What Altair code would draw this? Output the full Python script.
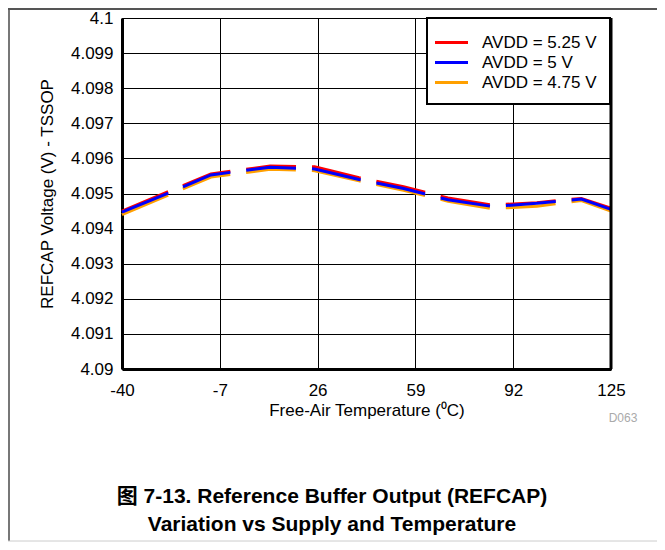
import altair as alt
import pandas as pd

temps = [-40, -25, -10, 10, 25, 40, 55, 70, 85, 100, 115, 125]
avdd_525 = [4.09450, 4.09503, 4.09556, 4.09578, 4.09576, 4.09545, 4.09519, 4.09487, 4.09467, 4.09474, 4.09486, 4.09458]
avdd_500 = [4.09447, 4.09499, 4.09553, 4.09575, 4.09570, 4.09540, 4.09514, 4.09482, 4.09463, 4.09472, 4.09484, 4.09455]
avdd_475 = [4.09440, 4.09493, 4.09547, 4.09569, 4.09565, 4.09536, 4.09509, 4.09478, 4.09457, 4.09464, 4.09480, 4.09450]

series_names = ["AVDD = 5.25 V", "AVDD = 5 V", "AVDD = 4.75 V"]
series_colors = ["#FF0000", "#0000FF", "#FFA000"]
x_ticks = [-40, -7, 26, 59, 92, 125]
y_ticks = [4.09, 4.091, 4.092, 4.093, 4.094, 4.095, 4.096, 4.097, 4.098, 4.099, 4.1]

# draw order: red, orange, blue (blue on top)
rows = []
for name, vals, order in [(series_names[0], avdd_525, 0), (series_names[2], avdd_475, 1), (series_names[1], avdd_500, 2)]:
    for t, v in zip(temps, vals):
        rows.append({"temp": t, "v": v, "series": name, "ord": order})
df = pd.DataFrame(rows)

W, H = 489, 351
FONT = "Liberation Sans"
FS = 17

lines = alt.Chart(df).mark_line(strokeWidth=3, strokeDash=[50, 16]).encode(
    x=alt.X("temp:Q", scale=alt.Scale(domain=[-40, 125], nice=False, zero=False),
            axis=alt.Axis(values=x_ticks, title="Free-Air Temperature (\u2070C)",
                          labelExpr="toString(datum.value)")),
    y=alt.Y("v:Q", scale=alt.Scale(domain=[4.09, 4.1], nice=False, zero=False),
            axis=alt.Axis(values=y_ticks, format=".3~f", title="REFCAP Voltage (V) - TSSOP")),
    color=alt.Color("series:N", scale=alt.Scale(domain=series_names, range=series_colors),
                    legend=alt.Legend(title=None, orient="none", legendX=305, legendY=0,
                                      symbolType="M-1.65,0H1.65", symbolSize=400, symbolStrokeWidth=3,
                                      symbolDash=[1, 0], labelFontSize=FS, labelOffset=19,
                                      rowPadding=0, padding=13, strokeColor="black",
                                      fillColor="white", labelColor="black", labelFont=FONT)),
    detail="ord:N",
    order="ord:Q",
)

one = alt.Data(values=[{}])

right_border = alt.Chart(one).mark_rule(color="black", strokeWidth=3).encode(
    x=alt.value(W), y=alt.value(0), y2=alt.value(H))

frame_left = alt.Chart(one).mark_rule(color="#777777", strokeWidth=2).encode(
    x=alt.value(-113), y=alt.value(-10), y2=alt.value(523))
frame_top = alt.Chart(one).mark_rule(color="#555555", strokeWidth=2).encode(
    x=alt.value(-114), x2=alt.value(535), y=alt.value(-9))
frame_bottom = alt.Chart(one).mark_rule(color="#cccccc", strokeWidth=1).encode(
    x=alt.value(-114), x2=alt.value(535), y=alt.value(523))

title1 = alt.Chart(one).mark_text(fontSize=21, fontWeight="bold", font="Liberation Sans, Noto Sans CJK SC",
                                  align="center", baseline="middle", color="black").encode(
    x=alt.value(210), y=alt.value(479), text=alt.value("\u56fe 7-13. Reference Buffer Output (REFCAP)"))
title2 = alt.Chart(one).mark_text(fontSize=21, fontWeight="bold", font="Liberation Sans, Noto Sans CJK SC",
                                  align="center", baseline="middle", color="black").encode(
    x=alt.value(210), y=alt.value(507), text=alt.value("Variation vs Supply and Temperature"))
d063 = alt.Chart(one).mark_text(fontSize=12, font=FONT, align="center", baseline="middle",
                                color="#aaaaaa").encode(
    x=alt.value(501), y=alt.value(400), text=alt.value("D063"))

chart = alt.layer(lines, right_border, frame_left, frame_top, frame_bottom, title1, title2, d063).properties(
    width=W, height=H,
    autosize=alt.AutoSizeParams(type="none"),
    padding={"left": 114, "top": 10, "right": 46, "bottom": 173},
).configure(font=FONT).configure_view(stroke="black", strokeWidth=1).configure_axis(
    grid=True, gridColor="black", gridOpacity=1, gridWidth=1,
    domainColor="black", domainWidth=3, ticks=False,
    labelFont=FONT, labelFontSize=FS, labelColor="black",
    titleFont=FONT, titleFontSize=FS, titleFontWeight="normal", titleColor="black",
).configure_axisX(labelPadding=13, titlePadding=4, labelFlush=False).configure_axisY(
    labelPadding=9, titlePadding=14).configure_legend(strokeWidth=2)

chart.save("out.html", embed_options={"renderer": "svg", "actions": False})
